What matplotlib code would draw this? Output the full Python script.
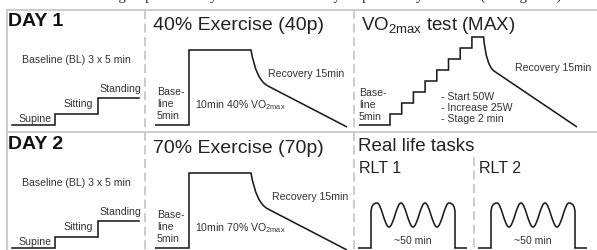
import matplotlib
matplotlib.use("Agg")
import matplotlib.pyplot as plt
from matplotlib.path import Path
from matplotlib.patches import PathPatch

plt.rcParams['font.family'] = ['Liberation Sans', 'DejaVu Sans']
plt.rcParams['mathtext.fontset'] = 'custom'
plt.rcParams['mathtext.rm'] = 'Liberation Sans'
plt.rcParams['mathtext.it'] = 'Liberation Sans'

# --- schematic data (figure pixels, day 1 row; day 2 is shifted down) ---
days = ["DAY 1", "DAY 2"]
row_shift = [0, 123]
ex_titles = ["40% Exercise (40p)", "70% Exercise (70p)"]
ex_labels = [r"10min 40% VO$_{\mathrm{2max}}$", r"10min 70% VO$_{\mathrm{2max}}$"]

# baseline postures: supine -> sitting -> standing
posture_names = ["Supine", "Sitting", "Standing"]
posture_x = [12, 55, 55, 98, 98, 139]
posture_y = [126, 126, 115, 115, 99, 99]

# sub-maximal exercise: 5 min baseline, 10 min plateau, recovery
ex_x = [155, 189, 189, 251]
ex_y = [126, 126, 51, 51]
ex_rec = [(256, 81), (268, 87), (347, 128)]   # control, knee, end

# VO2max test: start 50 W, +25 W every 2 min
stage_watts = [50, 75, 100, 125, 150, 175, 200, 225]
max_base_x = [359, 390]
max_rec = [(486, 66), (494, 72), (577, 128)]

# real life tasks: waves (peaks / troughs) of RLT 1; RLT 2 shifted by 120
rlt_names = ["RLT 1", "RLT 2"]
rlt_shift = [0, 120]
rlt_ext_x = [377, 389, 401, 413, 425, 437, 449]
rlt_ext_y = [204, 228, 204, 228, 204, 228, 204]
rlt_edges = [358, 371, 455, 467]

INK = '#1c1c1c'
TXT = '#333333'
GRID = '#c8c8c8'
LW = 1.15

fig = plt.figure(figsize=(5.97, 2.51), dpi=100)
ax = fig.add_axes([0, 0, 1, 1])
ax.set_xlim(0, 597)
ax.set_ylim(251, 0)
ax.axis('off')

# caption line cut off at the top
ax.text(565, 0.3, "in an additional group. The study consisted of two days separated by \u22651 week (see Figure 1).",
        family='Liberation Serif', fontsize=10.5, ha='right', va='baseline', color='#222222')

# frame
ax.plot([7, 597], [11, 11], color=GRID, lw=1.3)
ax.plot([7, 597], [133, 133], color=GRID, lw=1.3)
ax.plot([7, 7], [11, 251], color=GRID, lw=1.3)
for x, y0 in [(145, 11), (354, 11), (474, 158)]:
    ax.plot([x, x], [y0, 251], color=GRID, lw=1.3, dashes=(5, 2.5))

small = dict(fontsize=7.6, color=TXT, va='baseline')

for r, dy in enumerate(row_shift):
    # day header + baseline postures
    ax.text(8, 26 + dy, days[r], fontsize=14, fontweight='bold', color='#111111', va='baseline')
    ax.text(76.5, 63 + dy, "Baseline (BL) 3 x 5 min", ha='center', **small)
    ax.plot(posture_x, [y + dy for y in posture_y], color=INK, lw=LW, solid_joinstyle='miter')
    for name, x, y in zip(posture_names, [18, 63, 99], [122, 107, 92.5]):
        ax.text(x, y + dy, name, **small)

    # sub-maximal exercise
    ax.text(153, 30 + dy, ex_titles[r], fontsize=14, color='#222222', va='baseline')
    verts = [(x, y + dy) for x, y in zip(ex_x, ex_y)]
    verts += [(x, y + dy) for x, y in ex_rec]
    codes = [Path.MOVETO] + [Path.LINETO] * 3 + [Path.CURVE3, Path.CURVE3, Path.LINETO]
    ax.add_patch(PathPatch(Path(verts, codes), fill=False, ec=INK, lw=LW, joinstyle='miter'))
    for t, y in zip(["Base-", "line", "5min"], [95, 107, 119]):
        ax.text(157, y + dy, t, **small)
    ax.text(195, 108 + dy, ex_labels[r], **small)
    ax.text(268 + 4 * r, 77 + dy, "Recovery 15min", **small)

# VO2max test (day 1 only)
ax.text(361, 29.5, r"VO$_{\mathrm{2max}}$ test (MAX)", fontsize=13.5, color='#222222', va='baseline')
step_w, step_h = 11.7, 11
vx, vy = [max_base_x[0], max_base_x[1]], [126, 126]
for i, w in enumerate(stage_watts):
    lvl = 126 - (w - 25) / 25 * step_h
    vx += [max_base_x[1] + i * step_w, max_base_x[1] + (i + 1) * step_w]
    vy += [lvl, lvl]
verts = list(zip(vx, vy)) + max_rec
codes = [Path.MOVETO] + [Path.LINETO] * (len(vx) - 1) + [Path.CURVE3, Path.CURVE3, Path.LINETO]
ax.add_patch(PathPatch(Path(verts, codes), fill=False, ec=INK, lw=LW, joinstyle='miter'))
for t, y in zip(["Base-", "line", "5min"], [96, 108, 120]):
    ax.text(359, y, t, **small)
for t, y in zip(["- Start 50W", "- Increase 25W", "- Stage 2 min"], [100, 111, 122]):
    ax.text(441, y, t, **small)
ax.text(515, 71, "Recovery 15min", **small)

# real life tasks (day 2 only)
ax.text(358, 151, "Real life tasks", fontsize=13.5, color='#222222', va='baseline')
for name, sx in zip(rlt_names, rlt_shift):
    ax.text(359 + sx, 172.7, name, fontsize=11.5, color='#222222', va='baseline')
    x0, x1, x2, x3 = [e + sx for e in rlt_edges]
    px = [e + sx for e in rlt_ext_x]
    verts = [(x0, 249), (x1, 249), (x1, 214), (x1, rlt_ext_y[0]), (px[0], rlt_ext_y[0])]
    codes = [Path.MOVETO, Path.LINETO, Path.LINETO, Path.CURVE3, Path.CURVE3]
    for i in range(1, len(px)):
        h = (px[i] - px[i - 1]) * 0.36
        verts += [(px[i - 1] + h, rlt_ext_y[i - 1]), (px[i] - h, rlt_ext_y[i]), (px[i], rlt_ext_y[i])]
        codes += [Path.CURVE4] * 3
    verts += [(x2, rlt_ext_y[-1]), (x2, 214), (x2, 249), (x3, 249)]
    codes += [Path.CURVE3, Path.CURVE3, Path.LINETO, Path.LINETO]
    ax.add_patch(PathPatch(Path(verts, codes), fill=False, ec=INK, lw=LW, joinstyle='miter'))
    ax.text((x1 + x2) / 2, 244, "~50 min", ha='center', **small)

fig.savefig("out.png", dpi=100)
